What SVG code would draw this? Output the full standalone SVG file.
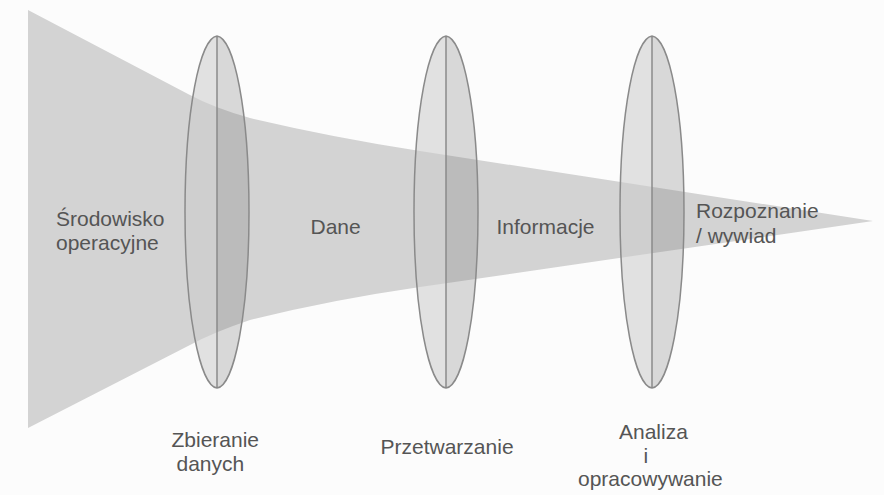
<svg xmlns="http://www.w3.org/2000/svg" width="884" height="495" viewBox="0 0 884 495">
<style>
.lbl{font-family:"Liberation Sans",Arial,sans-serif;font-size:21px;fill:#555555}
.lh-l{fill:#cccccc;fill-opacity:0.575}
.lh-r{fill:#868686;fill-opacity:0.3}
.ln{fill:none;stroke:#8a8a8a;stroke-width:1.5}
</style>
<defs>
<path id="lensL" d="M0,36 C-17,38 -32,110 -32,212 C-32,314 -17,386 0,388 Z"/>
<path id="lensR" d="M0,36 C17,38 32,110 32,212 C32,314 17,386 0,388 Z"/>
<path id="lensO" d="M0,36 C17,38 32,110 32,212 C32,314 17,386 0,388 C-17,386 -32,314 -32,212 C-32,110 -17,38 0,36 Z M0,36 L0,388"/>
</defs>
<rect width="884" height="495" fill="#fcfcfc"/>
<g id="funnel">
<path d="M28,10 L188,94 Q214,108 250,118 Q330,137 420,151 L873,221 L420,287 Q330,300 250,320 Q214,332 190,345 L28,428 Z" fill="#d3d3d3"/>
</g>
<g id="srodowisko">
<text class="lbl" x="56" y="226">Środowisko<tspan x="56" dy="23.5">operacyjne</tspan></text>
</g>
<g id="dane"><text class="lbl" x="310.5" y="234">Dane</text></g>
<g id="informacje"><text class="lbl" x="496.5" y="234">Informacje</text></g>
<g id="rozpoznanie">
<text class="lbl" x="696" y="218">Rozpoznanie<tspan x="696" dy="25">/ wywiad</tspan></text>
</g>
<g id="lens-zbieranie">
<g transform="translate(217,0)">
<use href="#lensL" class="lh-l"/><use href="#lensR" class="lh-r"/><use href="#lensO" class="ln"/>
</g>
<text class="lbl" x="171.5" y="447">Zbieranie<tspan x="176.5" dy="24">danych</tspan></text>
</g>
<g id="lens-przetwarzanie">
<g transform="translate(446,0)">
<use href="#lensL" class="lh-l"/><use href="#lensR" class="lh-r"/><use href="#lensO" class="ln"/>
</g>
<text class="lbl" x="380.5" y="454">Przetwarzanie</text>
</g>
<g id="lens-analiza">
<g transform="translate(652,0)">
<use href="#lensL" class="lh-l"/><use href="#lensR" class="lh-r"/><use href="#lensO" class="ln"/>
</g>
<text class="lbl" x="619" y="439">Analiza<tspan x="643.5" dy="23.5">i</tspan><tspan x="578" dy="23.5">opracowywanie</tspan></text>
</g>
</svg>
